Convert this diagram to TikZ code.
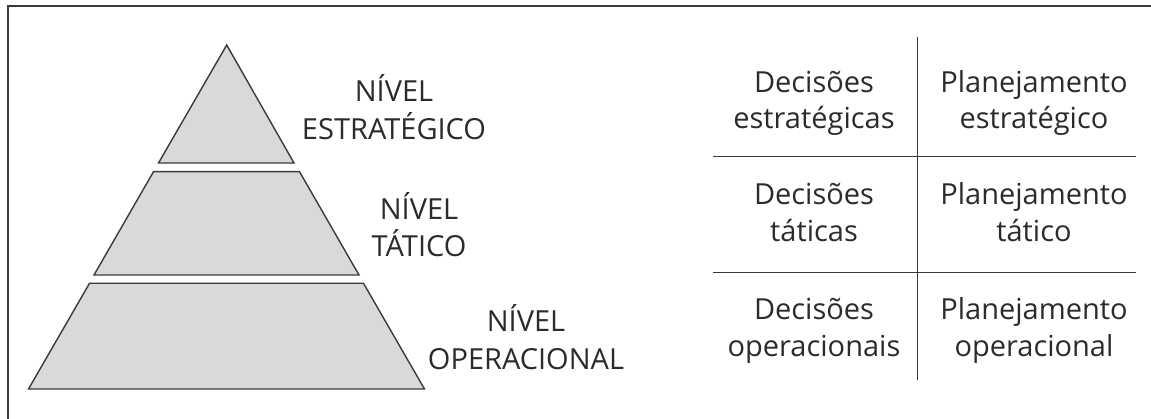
\documentclass[tikz,border=0pt]{standalone}
\usepackage{fontspec}
\setmainfont{Open Sans}
\definecolor{ink}{HTML}{2B2B2B}
\definecolor{layerfill}{HTML}{D9D9D9}
\definecolor{edge}{HTML}{3A3A3A}
\begin{document}
\begin{tikzpicture}[x=1pt,y=-1pt,
  frame/.style={draw=edge,line width=1.3pt},
  layer/.style={draw=edge,fill=layerfill,line width=1.4pt,line join=miter},
  rule/.style={draw=edge,line width=1.3pt},
  lbl/.style={anchor=base,inner sep=0pt,text=ink,font=\fontsize{29}{34}\selectfont}]
\useasboundingbox (0,0) rectangle (1151,419);
% frame (top and left edges)
\coordinate (ftl) at (8,6);
\coordinate (ftr) at (1151,6);
\coordinate (fbl) at (8,419);
\draw[frame] (ftr) -- (ftl) -- (fbl);
% pyramid layers
\draw[layer] (226.7,45) -- (294,163) -- (158.5,163) -- cycle;
\draw[layer] (153.5,171.7) -- (299.5,171.7) -- (359,275) -- (94,275) -- cycle;
\draw[layer] (89.5,283.3) -- (363.5,283.3) -- (424.5,389) -- (28.5,389) -- cycle;
% pyramid labels
\node[lbl] (s1) at (394,101.7) {NÍVEL};
\node[lbl] (s2) at (394,140) {ESTRATÉGICO};
\node[lbl] (t1) at (419,220) {NÍVEL};
\node[lbl] (t2) at (419,257) {TÁTICO};
\node[lbl] (o1) at (526,332) {NÍVEL};
\node[lbl] (o2) at (526,370) {OPERACIONAL};
% table rules
\coordinate (vt) at (917.3,36.7);
\coordinate (vb) at (917.3,380);
\coordinate (h1l) at (713.3,156.7);
\coordinate (h1r) at (1135.7,156.7);
\coordinate (h2l) at (713.3,272.3);
\coordinate (h2r) at (1135.7,272.3);
\draw[rule] (vt) -- (vb);
\draw[rule] (h1l) -- (h1r);
\draw[rule] (h2l) -- (h2r);
% table text
\node[lbl] (d1a) at (814,92.5) {Decisões};
\node[lbl] (d1b) at (814,129) {estratégicas};
\node[lbl] (p1a) at (1034,92.5) {Planejamento};
\node[lbl] (p1b) at (1034,129) {estratégico};
\node[lbl] (d2a) at (814,205) {Decisões};
\node[lbl] (d2b) at (814,241.7) {táticas};
\node[lbl] (p2a) at (1034,205) {Planejamento};
\node[lbl] (p2b) at (1034,241.7) {tático};
\node[lbl] (d3a) at (814,320) {Decisões};
\node[lbl] (d3b) at (814,356.7) {operacionais};
\node[lbl] (p3a) at (1034,320) {Planejamento};
\node[lbl] (p3b) at (1034,356.7) {operacional};
\end{tikzpicture}
\end{document}
